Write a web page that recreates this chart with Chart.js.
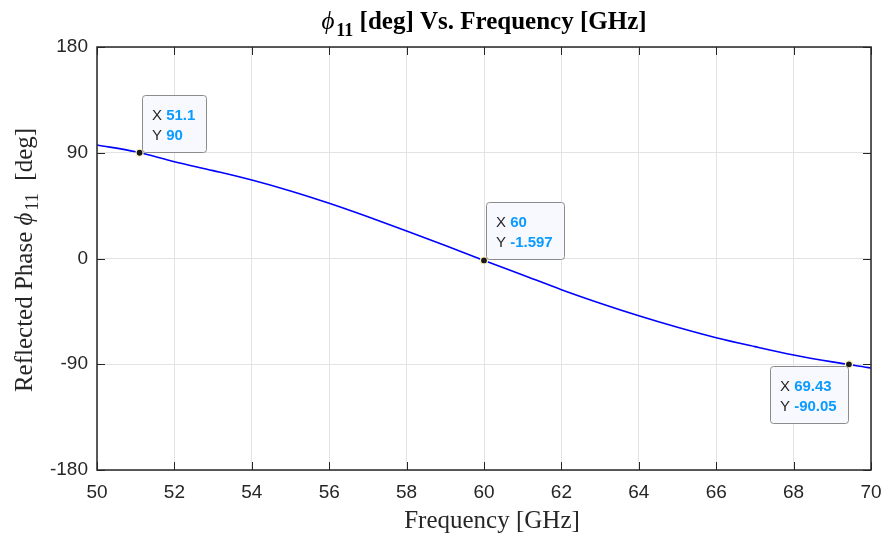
<!DOCTYPE html>
<html>
<head>
<meta charset="utf-8">
<script src="https://cdn.jsdelivr.net/npm/chart.js@4.4.1/dist/chart.umd.min.js"></script>
<style>
  html, body { margin: 0; padding: 0; background: #fff; }
  #wrap { width: 885px; height: 535px; position: relative; }
</style>
</head>
<body>
<div id="wrap"><canvas id="phaseChart"></canvas></div>
<script>
// frequency [GHz] and reflected phase [deg]
const freq  = [50, 51, 52, 53, 54, 55, 56, 57, 58, 59, 60, 61, 62, 63, 64, 65, 66, 67, 68, 69, 70];
const phase = [96.6, 90.8, 82.4, 74.8, 66.8, 57.5, 47, 35.5, 23.4, 11, -1.6, -14, -26.5, -38, -48.7, -58.5, -67.4, -75, -82.1, -88, -93.2];

// data tips
const tipX = [51.1, 60, 69.43];
const tipY = [90, -1.597, -90.05];
const tipLabelX = ['51.1', '60', '69.43'];
const tipLabelY = ['90', '-1.597', '-90.05'];
const tipSide = ['above', 'above', 'below'];

const xTicks = [50, 52, 54, 56, 58, 60, 62, 64, 66, 68, 70];
const yTicks = [-180, -90, 0, 90, 180];

const axisColor = '#262626';
const tickFont = { family: 'Liberation Sans, Arial, sans-serif', size: 19 };
const serif = '"Liberation Serif", "Times New Roman", serif';

// box, inward ticks, titles with subscripts, data tips
const matlabLook = {
  id: 'matlabLook',
  afterDraw(chart) {
    const ctx = chart.ctx;
    const a = chart.chartArea;
    const xs = chart.scales.x, ys = chart.scales.y;
    ctx.save();
    // box
    ctx.strokeStyle = axisColor;
    ctx.lineWidth = 1.5;
    ctx.strokeRect(a.left, a.top, a.right - a.left, a.bottom - a.top);
    // inward ticks
    ctx.lineWidth = 1;
    const tl = 8;
    xTicks.forEach(v => {
      const px = Math.round(xs.getPixelForValue(v)) + 0.5;
      ctx.beginPath();
      ctx.moveTo(px, a.bottom); ctx.lineTo(px, a.bottom - tl);
      ctx.moveTo(px, a.top); ctx.lineTo(px, a.top + tl);
      ctx.stroke();
    });
    yTicks.forEach(v => {
      const py = Math.round(ys.getPixelForValue(v)) + 0.5;
      ctx.beginPath();
      ctx.moveTo(a.left, py); ctx.lineTo(a.left + tl, py);
      ctx.moveTo(a.right, py); ctx.lineTo(a.right - tl, py);
      ctx.stroke();
    });

    // title: phi_11 [deg] Vs. Frequency [GHz]
    const cx = (a.left + a.right) / 2;
    ctx.fillStyle = '#000';
    ctx.textBaseline = 'alphabetic';
    const tFont = 'bold 25px ' + serif;
    const phiFont = 'italic 25px ' + serif;
    const subFont = 'bold 18px ' + serif;
    const rest = ' [deg] Vs. Frequency [GHz]';
    ctx.font = phiFont; const wPhi = ctx.measureText('\u03D5').width + 2;
    ctx.font = subFont; const wSub = ctx.measureText('11').width;
    ctx.font = tFont; const wRest = ctx.measureText(rest).width;
    let x0 = cx - (wPhi + wSub + wRest) / 2;
    const base = 29;
    ctx.textAlign = 'left';
    ctx.font = phiFont; ctx.fillText('\u03D5', x0, base);
    ctx.font = subFont; ctx.fillText('11', x0 + wPhi, base + 7);
    ctx.font = tFont; ctx.fillText(rest, x0 + wPhi + wSub, base);

    // x axis title
    ctx.fillStyle = axisColor;
    ctx.font = '25px ' + serif;
    ctx.textAlign = 'center';
    ctx.fillText('Frequency [GHz]', 492, 528);

    // y axis title, rotated
    ctx.save();
    ctx.translate(32, 260);
    ctx.rotate(-Math.PI / 2);
    const yFont = '25px ' + serif;
    const yPhi = 'italic 25px ' + serif;
    const ySub = '18px ' + serif;
    const p1 = 'Reflected Phase ', p3 = '  [deg]';
    ctx.font = yFont; const w1 = ctx.measureText(p1).width, w3 = ctx.measureText(p3).width;
    ctx.font = yPhi; const w2 = ctx.measureText('\u03D5').width + 2;
    ctx.font = ySub; const ws = ctx.measureText('11').width;
    let yx = -(w1 + w2 + ws + w3) / 2;
    ctx.textAlign = 'left';
    ctx.font = yFont; ctx.fillText(p1, yx, 0); yx += w1;
    ctx.font = yPhi; ctx.fillText('\u03D5', yx, 0); yx += w2;
    ctx.font = ySub; ctx.fillText('11', yx, 6); yx += ws;
    ctx.font = yFont; ctx.fillText(p3, yx, 0);
    ctx.restore();

    // data tip boxes
    const lblFont = '15px "Liberation Sans", Arial, sans-serif';
    const valFont = 'bold 15px "Liberation Sans", Arial, sans-serif';
    tipX.forEach((v, i) => {
      const px = xs.getPixelForValue(v), py = ys.getPixelForValue(tipY[i]);
      ctx.font = lblFont;
      const wl = ctx.measureText('X ').width;
      ctx.font = valFont;
      const wv = Math.max(ctx.measureText(tipLabelX[i]).width, ctx.measureText(tipLabelY[i]).width);
      const bw = Math.round(10 + wl + wv + 11), bh = 57;
      let bx, by;
      if (tipSide[i] === 'above') { bx = Math.round(px) + 2; by = Math.round(py) - bh - 1; }
      else { bx = Math.round(px) - bw - 1; by = Math.round(py) + 2; }
      ctx.beginPath();
      ctx.roundRect(bx + 0.5, by + 0.5, bw, bh, 3);
      ctx.fillStyle = 'rgba(248,248,255,0.95)';
      ctx.fill();
      ctx.strokeStyle = '#8c8c8c';
      ctx.lineWidth = 1;
      ctx.stroke();
      ctx.textAlign = 'left';
      ctx.font = lblFont; ctx.fillStyle = '#262626';
      ctx.fillText('X', bx + 10, by + 25);
      ctx.fillText('Y', bx + 10, by + 45);
      ctx.font = valFont; ctx.fillStyle = '#0a9bff';
      ctx.fillText(tipLabelX[i], bx + 10 + wl, by + 25);
      ctx.fillText(tipLabelY[i], bx + 10 + wl, by + 45);
    });
    ctx.restore();
  }
};

new Chart(document.getElementById('phaseChart'), {
  type: 'line',
  data: {
    datasets: [
      {
        label: 'phase',
        data: freq.map((f, i) => ({ x: f, y: phase[i] })),
        borderColor: '#0000ff',
        borderWidth: 1.6,
        pointRadius: 0,
        cubicInterpolationMode: 'monotone',
        fill: false,
        order: 2
      },
      {
        label: 'tips',
        data: tipX.map((f, i) => ({ x: f, y: tipY[i] })),
        showLine: false,
        pointRadius: 3.5,
        pointBackgroundColor: '#1a1a1a',
        pointBorderColor: '#fff8c0',
        pointBorderWidth: 1.2,
        order: 1
      }
    ]
  },
  options: {
    responsive: true,
    maintainAspectRatio: false,
    animation: false,
    layout: { padding: { left: 0, right: 0, top: 47, bottom: 0 } },
    plugins: { legend: { display: false }, tooltip: { enabled: false }, title: { display: false } },
    scales: {
      x: {
        type: 'linear',
        min: 50, max: 70,
        afterBuildTicks: s => { s.ticks = xTicks.map(v => ({ value: v })); },
        afterFit: s => { s.height = 65; s.paddingRight = 14; },
        grid: { color: '#e3e3e3', lineWidth: 1, drawTicks: false },
        border: { display: false },
        ticks: { color: axisColor, font: tickFont, padding: 11, maxRotation: 0 }
      },
      y: {
        min: -180, max: 180,
        afterBuildTicks: s => { s.ticks = yTicks.map(v => ({ value: v })); },
        afterFit: s => { s.width = 97; },
        grid: { color: '#e3e3e3', lineWidth: 1, drawTicks: false },
        border: { display: false },
        ticks: { color: axisColor, font: tickFont, padding: 9 }
      }
    }
  },
  plugins: [matlabLook]
});
</script>
</body>
</html>
